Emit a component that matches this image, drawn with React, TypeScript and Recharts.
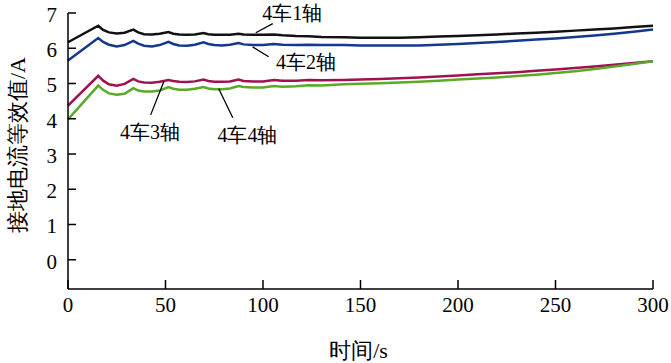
import React from 'react'
import {
  LineChart,
  Line,
  XAxis,
  YAxis,
  ReferenceLine,
  ReferenceDot,
} from 'recharts'

// time axis, s
const times = [
  0, 15.5, 18, 21, 25, 29, 33.5, 36, 39, 43, 47, 51.5, 54, 57, 61, 65, 69.5, 72, 75, 79, 83,
  87.5, 90, 95, 100, 105.5, 110, 117, 123.5, 130, 141.5, 150, 160, 170, 180, 190, 200, 210,
  220, 230, 240, 250, 260, 270, 280, 290, 300,
]

const axle1 = [
  6.17, 6.64, 6.52, 6.45, 6.42, 6.44, 6.53, 6.45, 6.4, 6.39, 6.41, 6.46, 6.41, 6.39, 6.38,
  6.39, 6.43, 6.4, 6.38, 6.38, 6.38, 6.41, 6.39, 6.38, 6.38, 6.39, 6.37, 6.35, 6.34, 6.32,
  6.31, 6.3, 6.3, 6.3, 6.31, 6.33, 6.35, 6.37, 6.39, 6.42, 6.44, 6.47, 6.5, 6.53, 6.56, 6.6,
  6.64,
]

const axle2 = [
  5.65, 6.29, 6.18, 6.1, 6.05, 6.09, 6.21, 6.13, 6.07, 6.05, 6.09, 6.18, 6.12, 6.08, 6.07,
  6.1, 6.17, 6.12, 6.09, 6.08, 6.1, 6.15, 6.11, 6.09, 6.09, 6.12, 6.1, 6.09, 6.1, 6.09, 6.09,
  6.08, 6.08, 6.08, 6.08, 6.1, 6.12, 6.15, 6.18, 6.21, 6.25, 6.28, 6.32, 6.36, 6.41, 6.47,
  6.53,
]

const axle3 = [
  4.37, 5.22, 5.08, 4.98, 4.94, 4.99, 5.13, 5.06, 5.03, 5.02, 5.05, 5.1, 5.07, 5.05, 5.04,
  5.06, 5.11, 5.07, 5.05, 5.05, 5.06, 5.11, 5.07, 5.06, 5.06, 5.1, 5.08, 5.08, 5.1, 5.09,
  5.1, 5.11, 5.13, 5.15, 5.17, 5.2, 5.23, 5.26, 5.29, 5.32, 5.36, 5.4, 5.44, 5.48, 5.53,
  5.58, 5.63,
]

const axle4 = [
  3.98, 4.94, 4.82, 4.72, 4.68, 4.71, 4.87, 4.8, 4.77, 4.77, 4.8, 4.9, 4.85, 4.82, 4.82,
  4.85, 4.9, 4.86, 4.84, 4.84, 4.86, 4.93, 4.9, 4.89, 4.89, 4.93, 4.91, 4.92, 4.95, 4.94,
  4.98, 4.99, 5.01, 5.03, 5.05, 5.08, 5.11, 5.14, 5.17, 5.21, 5.25, 5.3, 5.35, 5.41, 5.48,
  5.55, 5.63,
]

const xTicks = [0, 50, 100, 150, 200, 250, 300]
const yTicks = [0, 1, 2, 3, 4, 5, 6, 7]

// curve labels: text position and leader line (data coords)
const labels = [
  { text: '4车1轴', x: 115, y: 7.0, line: [96.3, 6.44, 105, 6.7] },
  { text: '4车2轴', x: 122, y: 5.62, line: [94.7, 6.04, 102.9, 5.76] },
  { text: '4车3轴', x: 42, y: 3.63, line: [49.1, 5.05, 42.4, 4.11] },
  { text: '4车4轴', x: 92, y: 3.55, line: [77.3, 4.85, 84.5, 4.03] },
]

const chartData = times.map((t, i) => ({
  t,
  a1: axle1[i],
  a2: axle2[i],
  a3: axle3[i],
  a4: axle4[i],
}))

const txt = {
  fontFamily: "'Liberation Serif', 'Times New Roman', 'DejaVu Serif', serif",
  fill: '#000',
}

const YTick = (props: any) => {
  const { x, y, payload } = props
  return (
    <g>
      <line x1={x + 11} x2={x + 19} y1={y} y2={y} stroke='#000' strokeWidth={1.5} />
      <text x={x} y={y + 9} textAnchor='end' fontSize={21} style={txt}>
        {payload.value}
      </text>
    </g>
  )
}

const XTick = (props: any) => {
  const { x, y, payload } = props
  return (
    <g>
      <line x1={x} x2={x} y1={y} y2={y - 9} stroke='#000' strokeWidth={1.5} />
      <text x={x} y={y + 23} textAnchor='middle' fontSize={21} style={txt}>
        {payload.value}
      </text>
    </g>
  )
}

const YTitle = (props: any) => {
  const { viewBox } = props
  const cx = viewBox.x + 17
  const cy = viewBox.y + viewBox.height / 2 - 6
  return (
    <text
      x={cx}
      y={cy}
      transform={`rotate(-90 ${cx} ${cy})`}
      textAnchor='middle'
      dominantBaseline='central'
      fontSize={22}
      style={txt}
    >
      接地电流等效值/A
    </text>
  )
}

const XTitle = (props: any) => {
  const { viewBox } = props
  return (
    <text
      x={viewBox.x + viewBox.width / 2 - 2}
      y={viewBox.y + 61}
      textAnchor='middle'
      dominantBaseline='central'
      fontSize={22}
      style={txt}
    >
      时间/s
    </text>
  )
}

export default function App() {
  return (
    <div style={{ position: 'absolute', left: 0, top: 0, background: '#fff' }}>
      <LineChart
        width={671}
        height={363}
        data={chartData}
        margin={{ top: 13, right: 18, left: 0, bottom: 0 }}
      >
        <XAxis
          dataKey='t'
          type='number'
          domain={[0, 300]}
          ticks={xTicks}
          height={74}
          tickSize={0}
          tickMargin={0}
          tickLine={false}
          axisLine={{ stroke: '#000', strokeWidth: 1.5 }}
          tick={<XTick />}
          label={<XTitle />}
        />
        <YAxis
          type='number'
          domain={[-0.83, 7]}
          ticks={yTicks}
          width={68}
          tickSize={0}
          tickMargin={11}
          tickLine={false}
          axisLine={{ stroke: '#000', strokeWidth: 1.5 }}
          tick={<YTick />}
          label={<YTitle />}
        />
        <Line dataKey='a1' stroke='#111111' strokeWidth={2.5} dot={false} type='linear' isAnimationActive={false} />
        <Line dataKey='a2' stroke='#12398c' strokeWidth={2.5} dot={false} type='linear' isAnimationActive={false} />
        <Line dataKey='a3' stroke='#a0124f' strokeWidth={2.5} dot={false} type='linear' isAnimationActive={false} />
        <Line dataKey='a4' stroke='#5aaa28' strokeWidth={2.5} dot={false} type='linear' isAnimationActive={false} />
        {labels.map((l) => (
          <ReferenceLine
            key={'l' + l.text}
            segment={[
              { x: l.line[0], y: l.line[1] },
              { x: l.line[2], y: l.line[3] },
            ]}
            stroke='#000'
            strokeWidth={1.3}
            ifOverflow='visible'
          />
        ))}
        {labels.map((l) => (
          <ReferenceDot
            key={'d' + l.text}
            x={l.x}
            y={l.y}
            r={0}
            ifOverflow='visible'
            shape={(p: any) => (
              <text
                x={p.cx}
                y={p.cy}
                textAnchor='middle'
                dominantBaseline='central'
                fontSize={20}
                style={txt}
              >
                {l.text}
              </text>
            )}
          />
        ))}
      </LineChart>
    </div>
  )
}
